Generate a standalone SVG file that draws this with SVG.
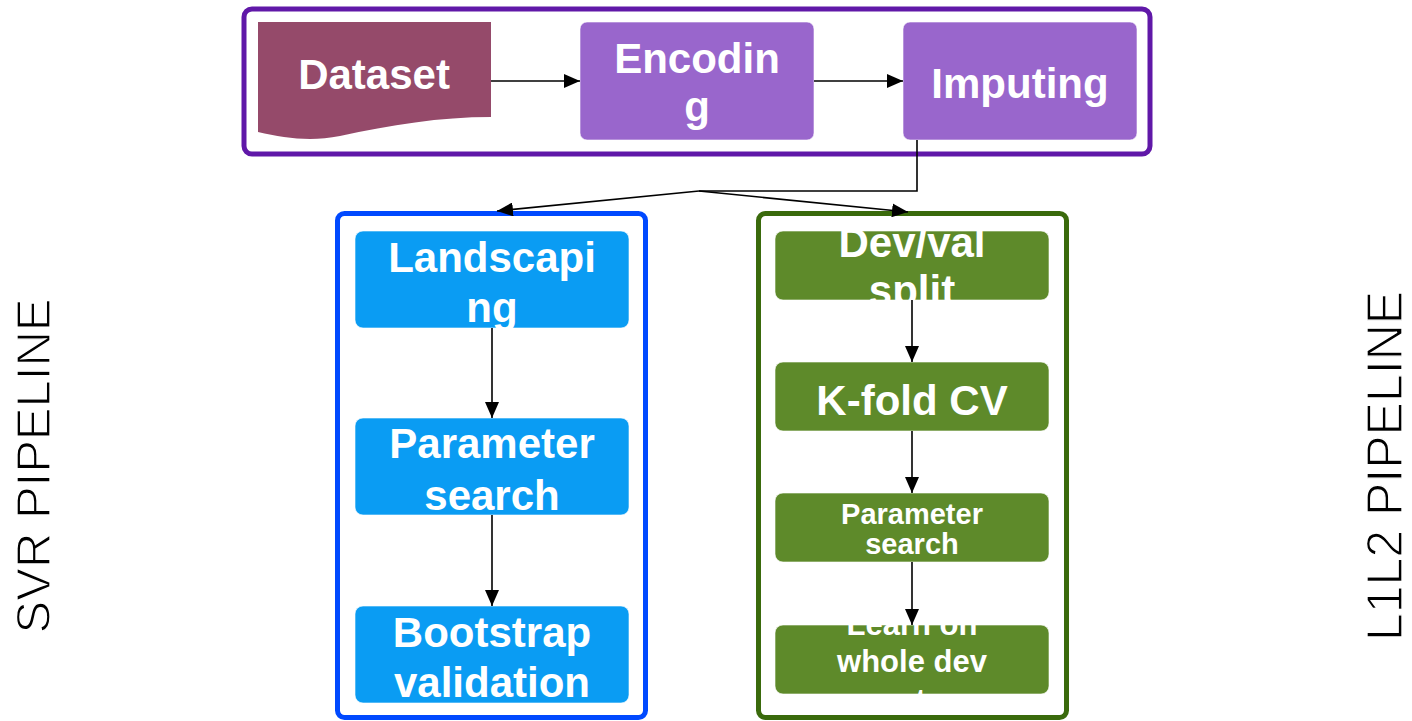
<svg xmlns="http://www.w3.org/2000/svg" width="1412" height="721" viewBox="0 0 1412 721">
  <style>
    .lbl { font-family: "Liberation Sans", Arial, sans-serif; font-weight: bold; fill: #ffffff; text-anchor: middle; }
    .side { font-family: "Liberation Sans", Arial, sans-serif; fill: #000000; stroke: #ffffff; stroke-width: 1.3; text-anchor: middle; }
    .proc { fill: #9966cc; stroke: #ffffff; stroke-opacity: 0.6; stroke-width: 1; }
    .svr { fill: #0a9cf3; stroke: #ffffff; stroke-opacity: 0.6; stroke-width: 1; }
    .l1l2 { fill: #5e8a2a; stroke: #ffffff; stroke-opacity: 0.6; stroke-width: 1; }
    .wire { fill: none; stroke: #000000; stroke-width: 1.6; }
  </style>
  <defs>
    <marker id="arrow" viewBox="0 0 16 14" refX="16" refY="7" markerWidth="16" markerHeight="14" markerUnits="userSpaceOnUse" orient="auto">
      <path d="M0,0 L16,7 L0,14 Z" fill="#000000"/>
    </marker>
    <clipPath id="clipDev"><rect x="775" y="231" width="274" height="69" rx="8"/></clipPath>
    <clipPath id="clipLearn"><rect x="775" y="625" width="274" height="69" rx="8"/></clipPath>
  </defs>

  <rect width="1412" height="721" fill="#ffffff"/>

  <!-- preprocessing frame -->
  <g id="prep-frame">
    <rect x="244" y="9" width="906" height="145" rx="8" fill="#ffffff" stroke="#6018a8" stroke-width="5"/>
  </g>

  <g id="dataset">
    <path d="M258,22 L491,22 L491,117 C440,117 390,125 340,136 C310,142 285,138 258,132 Z" fill="#954a6a"/>
    <text class="lbl" x="374" y="89" font-size="42">Dataset</text>
  </g>

  <g id="encoding">
    <rect class="proc" x="580" y="22" width="234" height="118" rx="7"/>
    <text class="lbl" x="697" y="73" font-size="42">Encodin</text>
    <text class="lbl" x="697" y="121" font-size="42">g</text>
  </g>

  <g id="imputing">
    <rect class="proc" x="903" y="22" width="234" height="118" rx="7"/>
    <text class="lbl" x="1020" y="98" font-size="42">Imputing</text>
  </g>

  <!-- SVR pipeline -->
  <g id="svr-frame">
    <rect x="337.5" y="213.5" width="308" height="504" rx="7" fill="#ffffff" stroke="#0049ff" stroke-width="5"/>
  </g>
  <g id="landscaping">
    <rect class="svr" x="355" y="231" width="274" height="97" rx="8"/>
    <text class="lbl" x="492" y="272" font-size="42">Landscapi</text>
    <text class="lbl" x="492" y="322" font-size="42">ng</text>
  </g>
  <g id="svr-parameter-search">
    <rect class="svr" x="355" y="418" width="274" height="97" rx="8"/>
    <text class="lbl" x="492" y="458" font-size="42">Parameter</text>
    <text class="lbl" x="492" y="510" font-size="42">search</text>
  </g>
  <g id="bootstrap">
    <rect class="svr" x="355" y="606" width="274" height="97" rx="8"/>
    <text class="lbl" x="492" y="647" font-size="42">Bootstrap</text>
    <text class="lbl" x="492" y="697" font-size="42">validation</text>
  </g>

  <!-- L1L2 pipeline -->
  <g id="l1l2-frame">
    <rect x="758.5" y="213.5" width="308" height="504" rx="7" fill="#ffffff" stroke="#3a6a0c" stroke-width="5"/>
  </g>
  <g id="dev-val-split">
    <rect class="l1l2" x="775" y="231" width="274" height="69" rx="8"/>
    <g clip-path="url(#clipDev)">
      <text class="lbl" x="912" y="257" font-size="42">Dev/val</text>
      <text class="lbl" x="912" y="305" font-size="42">split</text>
    </g>
  </g>
  <g id="kfold">
    <rect class="l1l2" x="775" y="362" width="274" height="69" rx="8"/>
    <text class="lbl" x="912" y="415" font-size="42">K-fold CV</text>
  </g>
  <g id="l1l2-parameter-search">
    <rect class="l1l2" x="775" y="493" width="274" height="69" rx="8"/>
    <text class="lbl" x="912" y="524" font-size="29">Parameter</text>
    <text class="lbl" x="912" y="554" font-size="29">search</text>
  </g>
  <g id="learn-whole-dev">
    <rect class="l1l2" x="775" y="625" width="274" height="69" rx="8"/>
    <g clip-path="url(#clipLearn)">
      <text class="lbl" x="912" y="635" font-size="31">Learn on</text>
      <text class="lbl" x="912" y="672" font-size="31">whole dev</text>
      <text class="lbl" x="912" y="711" font-size="31">sets</text>
    </g>
  </g>

  <!-- side titles -->
  <g id="svr-title">
    <text class="side" font-size="49" transform="translate(50,466) rotate(-90)">SVR PIPELINE</text>
  </g>
  <g id="l1l2-title">
    <text class="side" font-size="50" transform="translate(1402,466) rotate(-90)">L1L2 PIPELINE</text>
  </g>

  <!-- connectors -->
  <g id="connectors">
    <line class="wire" x1="491" y1="81" x2="580" y2="81" marker-end="url(#arrow)"/>
    <line class="wire" x1="814" y1="81" x2="903" y2="81" marker-end="url(#arrow)"/>
    <polyline class="wire" points="917,140 917,191 699,191"/>
    <line class="wire" x1="699" y1="191" x2="497" y2="211" marker-end="url(#arrow)"/>
    <line class="wire" x1="699" y1="191" x2="908" y2="212" marker-end="url(#arrow)"/>
    <line class="wire" x1="492" y1="328" x2="492" y2="418" marker-end="url(#arrow)"/>
    <line class="wire" x1="492" y1="515" x2="492" y2="606" marker-end="url(#arrow)"/>
    <line class="wire" x1="912" y1="300" x2="912" y2="362" marker-end="url(#arrow)"/>
    <line class="wire" x1="912" y1="431" x2="912" y2="493" marker-end="url(#arrow)"/>
    <line class="wire" x1="912" y1="562" x2="912" y2="625" marker-end="url(#arrow)"/>
  </g>
</svg>
